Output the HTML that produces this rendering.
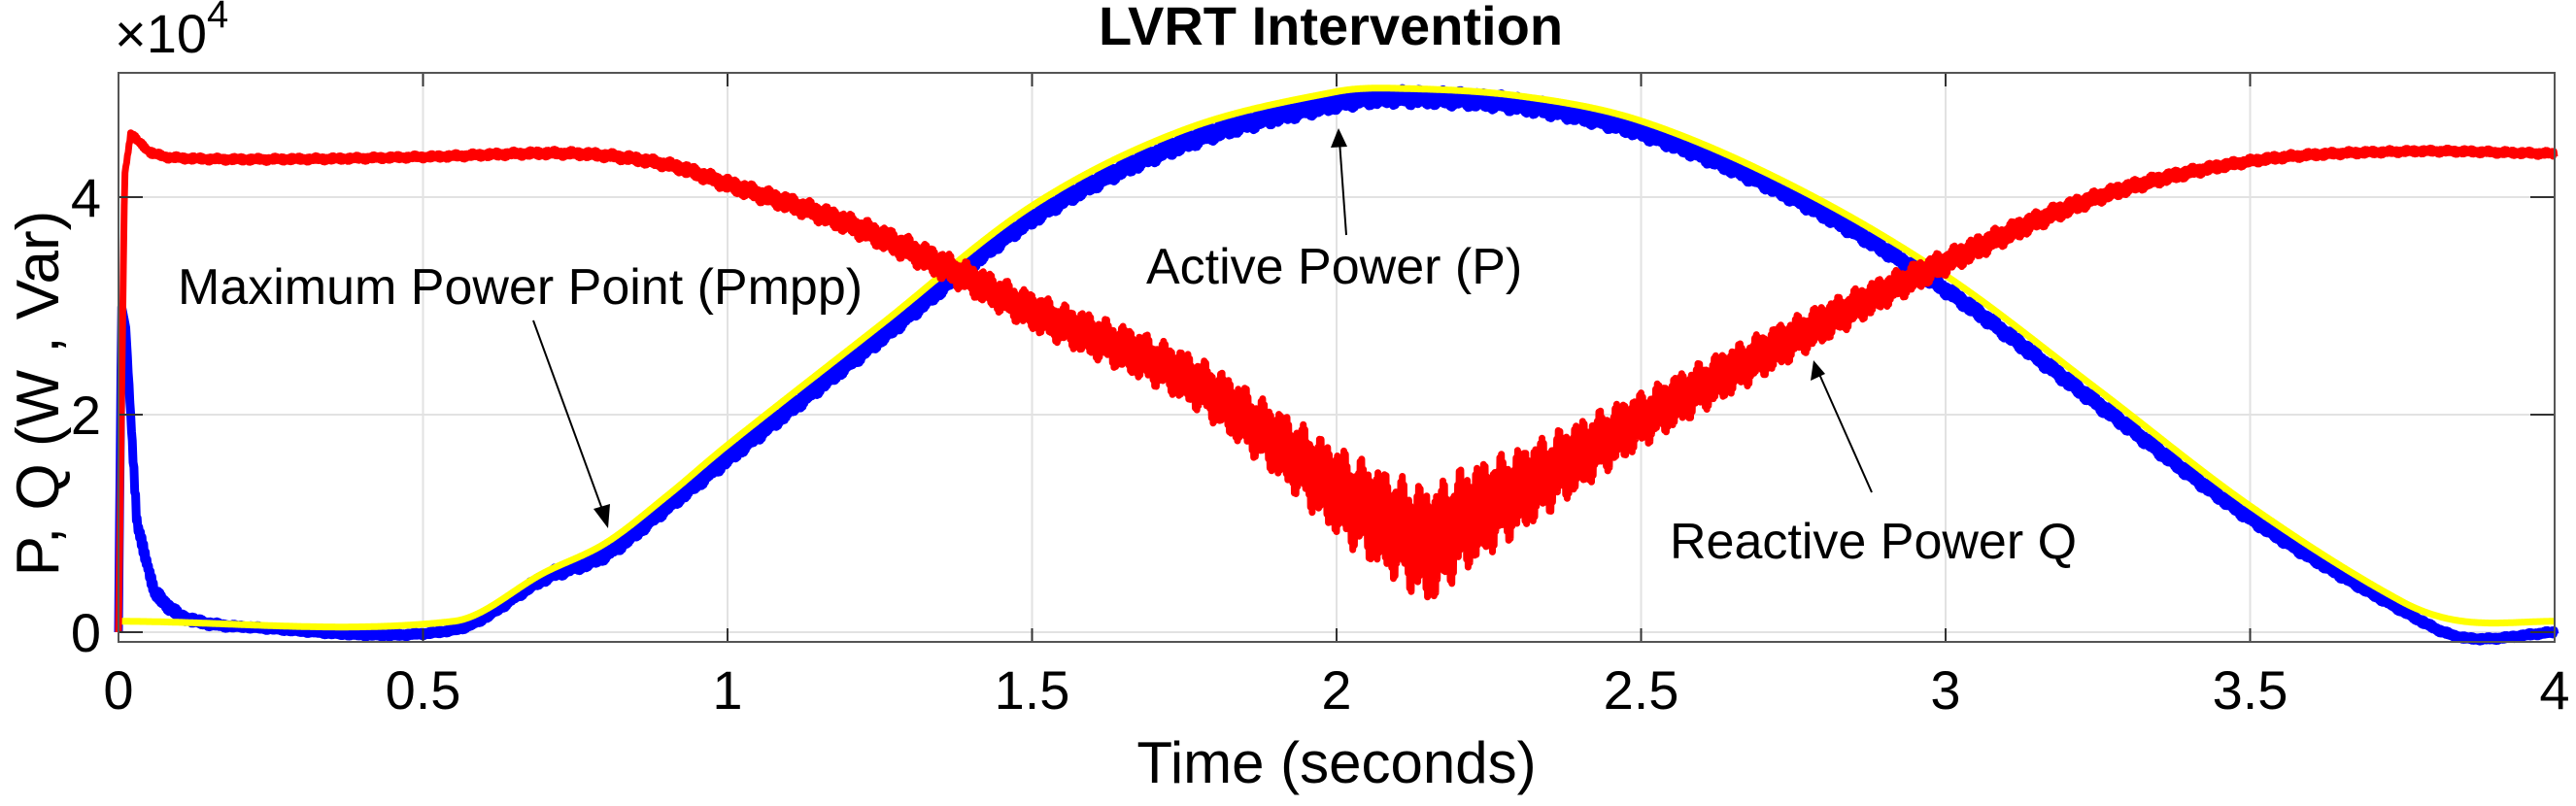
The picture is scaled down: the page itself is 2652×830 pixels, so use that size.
<!DOCTYPE html>
<html><head><meta charset="utf-8">
<style>
html,body{margin:0;padding:0;background:#fff;}
svg{display:block;font-family:"Liberation Sans",Arial,sans-serif;}
</style></head>
<body>
<svg id="chart" width="2652" height="830" viewBox="0 0 2652 830">
<g id="grid"></g>
<g id="series"></g>
<g id="axes"></g>
<text x="1370" y="46" font-size="56" font-weight="bold" text-anchor="middle">LVRT Intervention</text>
<text x="118" y="54" font-size="56">×10<tspan font-size="40" dy="-26">4</tspan></text>
<text transform="translate(60,405) rotate(-90)" font-size="62" text-anchor="middle">P, Q (W , Var)</text>
<text x="1376" y="806" font-size="60" text-anchor="middle">Time (seconds)</text>
<g>
<text x="183" y="313" font-size="52">Maximum Power Point (Pmpp)</text>
<line x1="549" y1="330" x2="622" y2="530" stroke="#000" stroke-width="2"/>
<polygon points="626,544 611,524 628,519" fill="#000"/>
</g>
<g>
<text x="1180" y="292" font-size="52">Active Power (P)</text>
<line x1="1386" y1="242" x2="1379" y2="145" stroke="#000" stroke-width="2"/>
<polygon points="1378,132 1370,152 1387,151" fill="#000"/>
</g>
<g>
<text x="1719" y="575" font-size="52">Reactive Power Q</text>
<line x1="1927" y1="507" x2="1872" y2="383" stroke="#000" stroke-width="2"/>
<polygon points="1867,371 1864,392 1879,385" fill="#000"/>
</g>
</svg>
<script>
const xTicks=[0,0.5,1,1.5,2,2.5,3,3.5,4];
const xTickLabels=["0","0.5","1","1.5","2","2.5","3","3.5","4"];
const yTicks=[0,2,4];
const yTickLabels=["0","2","4"];
// Reactive power Q (x1e4)
const qTime=[0,0.01,0.02,0.05,0.1,0.3,0.5,0.75,0.9,1.0,1.2,1.36,1.5,1.75,1.9,2.0,2.1,2.15,2.2,2.3,2.5,2.75,3.0,3.25,3.5,3.75,4.0];
const qVals=[0,4.2,4.58,4.42,4.36,4.35,4.37,4.4,4.3,4.12,3.75,3.35,2.95,2.35,1.75,1.3,0.95,0.8,1.0,1.3,1.95,2.7,3.4,4.0,4.33,4.42,4.4];
const qNoise=[0,0,0.03,0.03,0.03,0.03,0.03,0.04,0.05,0.07,0.1,0.14,0.18,0.24,0.32,0.42,0.5,0.55,0.5,0.4,0.26,0.2,0.12,0.07,0.04,0.03,0.03];
// Active power P (x1e4)
const pTime=[0,0.005,0.012,0.03,0.06,0.1,0.2,0.55,0.7,0.8,0.9,1.0,1.25,1.5,1.75,2.0,2.1,2.3,2.5,2.75,3.0,3.25,3.5,3.75,3.85,4.0];
const pVals=[0,3.0,2.8,1.0,0.35,0.15,0.05,0.02,0.5,0.72,1.15,1.6,2.7,3.8,4.5,4.87,4.92,4.85,4.6,4.0,3.15,2.1,1.05,0.2,-0.05,0.0];
const pNoise=[0,0,0,0.08,0.06,0.04,0.02,0.02,0.05,0.06,0.06,0.07,0.07,0.07,0.08,0.08,0.08,0.08,0.07,0.07,0.06,0.06,0.05,0.03,0.02,0.02];
// Maximum power point Pmpp (x1e4)
const mTime=[0,0.55,0.7,0.8,0.9,1.0,1.25,1.5,1.75,2.0,2.1,2.3,2.5,2.75,3.0,3.25,3.5,3.75,3.85,4.0];
const mVals=[0.1,0.1,0.55,0.82,1.25,1.72,2.82,3.92,4.62,4.97,5.0,4.93,4.7,4.1,3.28,2.23,1.16,0.28,0.1,0.1];

const X0=122,X1=2630,Y0=651,YPER=112;
const xs=t=>X0+(t/4)*(X1-X0);
const ys=v=>Y0-v*YPER;
const NS="http://www.w3.org/2000/svg";
function mk(tag,attrs,parent){const e=document.createElementNS(NS,tag);for(const k in attrs)e.setAttribute(k,attrs[k]);parent.appendChild(e);return e;}
function interp(T,V,t){
 if(t<=T[0])return V[0];
 for(let i=1;i<T.length;i++){
  if(t<=T[i]){
   const f=(t-T[i-1])/(T[i]-T[i-1]);
   const p0=V[Math.max(0,i-2)],p1=V[i-1],p2=V[i],p3=V[Math.min(V.length-1,i+1)];
   const dt=T[i]-T[i-1];
   const t0=T[Math.max(0,i-2)],t3=T[Math.min(T.length-1,i+1)];
   const m1=(i-2>=0)?(p2-p0)/(T[i]-t0)*dt:(p2-p1);
   const m2=(i+1<V.length)?(p3-p1)/(t3-T[i-1])*dt:(p2-p1);
   const f2=f*f,f3=f2*f;
   let v=(2*f3-3*f2+1)*p1+(f3-2*f2+f)*m1+(-2*f3+3*f2)*p2+(f3-f2)*m2;
   if(dt<0.05)v=p1+f*(p2-p1);
   return v;
  }
 }
 return V[V.length-1];
}
function lin(T,V,t){if(t<=T[0])return V[0];for(let i=1;i<T.length;i++){if(t<=T[i]){const f=(t-T[i-1])/(T[i]-T[i-1]);return V[i-1]+f*(V[i]-V[i-1]);}}return V[V.length-1];}
const grid=document.getElementById('grid'),axes=document.getElementById('axes'),series=document.getElementById('series');
const TOP=75,BOT=661;
xTicks.forEach((t,i)=>{
 const g=mk('line',{x1:xs(t),x2:xs(t),y1:TOP,y2:BOT,stroke:'#e2e2e2','stroke-width':2},grid);
 
 
 mk('line',{x1:xs(t),x2:xs(t),y1:BOT,y2:BOT-14,stroke:'#333','stroke-width':2},axes);
 mk('line',{x1:xs(t),x2:xs(t),y1:TOP,y2:TOP+14,stroke:'#333','stroke-width':2},axes);
 const l=mk('text',{x:xs(t),y:730,'font-size':56,'text-anchor':'middle'},axes);
 l.textContent=xTickLabels[i];
 
 
});
yTicks.forEach((v,i)=>{
 const g=mk('line',{x1:X0,x2:X1,y1:ys(v),y2:ys(v),stroke:'#e2e2e2','stroke-width':2},grid);
 
 
 mk('line',{x1:X0,x2:X0+25,y1:ys(v),y2:ys(v),stroke:'#333','stroke-width':2},axes);
 mk('line',{x1:X1,x2:X1-25,y1:ys(v),y2:ys(v),stroke:'#333','stroke-width':2},axes);
 const l=mk('text',{x:X0-18,y:ys(v)+20,'font-size':56,'text-anchor':'end'},axes);
 l.textContent=yTickLabels[i];
 
 
});
const frame=mk('rect',{x:X0,y:TOP,width:X1-X0,height:BOT-TOP,fill:'none',stroke:'#555','stroke-width':2},axes);


function drawSeries(T,V,N,color,width,name){
 const N2=3000;let pts=[];
 for(let k=0;k<=N2;k++){
  const t=4*k/N2;const v=interp(T,V,t);const a=N?lin(T,N,t):0;
  const j=(k%2?1:-1)*(0.4+0.6*Math.abs(Math.sin(k*1.7)*Math.cos(k*0.31)));
  pts.push(xs(t).toFixed(1)+','+ys(v+a*j).toFixed(1));
 }
 const p=mk('polyline',{points:pts.join(' '),fill:'none',stroke:color,'stroke-width':width,'stroke-linejoin':'round'},series);
 
 
}
drawSeries(pTime,pVals,pNoise,'#0000ff',9,'active-power-line');
drawSeries(mTime,mVals,null,'#ffff00',7,'pmpp-line');
drawSeries(qTime,qVals,qNoise,'#ff0000',7,'reactive-power-line');
</script>
</body></html>
